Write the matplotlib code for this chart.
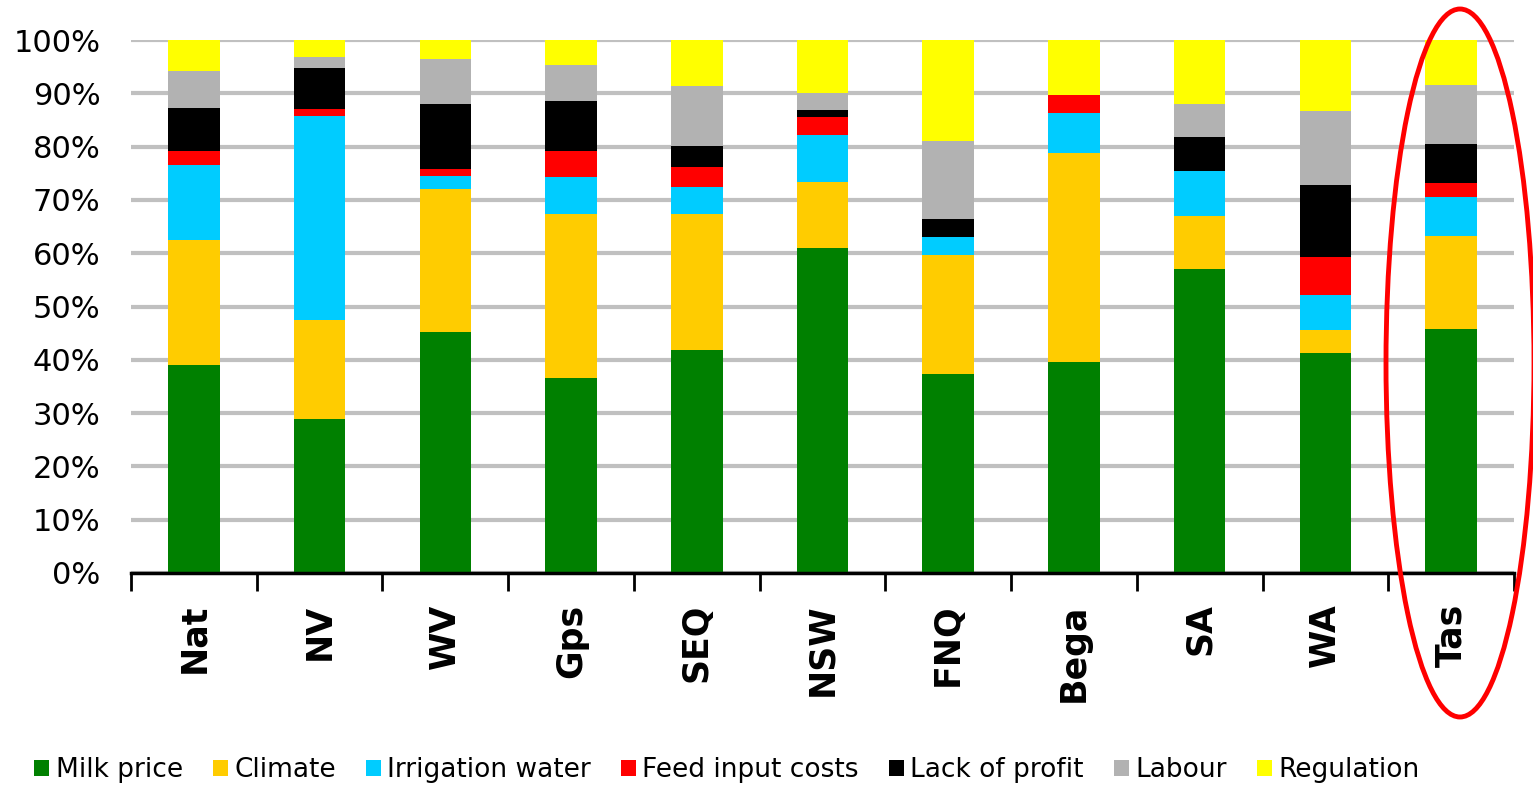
#!/usr/bin/env python3
"""Stacked share of reasons by dairy region, Tas highlighted."""

import matplotlib

matplotlib.use("Agg")
import matplotlib.pyplot as plt
import numpy as np
from matplotlib.patches import Ellipse

REGIONS = ["Nat", "NV", "WV", "Gps", "SEQ", "NSW", "FNQ", "Bega", "SA", "WA", "Tas"]

# shares in percent
MILK_PRICE = [39.1, 28.8, 45.3, 36.6, 41.9, 60.9, 37.4, 39.6, 57.1, 41.3, 45.8]
CLIMATE = [23.4, 18.6, 26.8, 30.8, 25.5, 12.5, 22.3, 39.2, 9.8, 4.3, 17.5]
IRRIGATION = [14.1, 38.4, 2.4, 6.9, 5.0, 8.8, 3.4, 7.5, 8.6, 6.6, 7.2]
FEED = [2.5, 1.2, 1.3, 4.8, 3.8, 3.3, 0.0, 3.3, 0.0, 7.0, 2.6]
LACK_PROFIT = [8.1, 7.7, 12.2, 9.4, 3.9, 1.3, 3.3, 0.0, 6.3, 13.6, 7.4]
LABOUR = [7.0, 2.1, 8.5, 6.9, 11.2, 3.3, 14.6, 0.0, 6.2, 13.8, 11.1]
REGULATION = [5.8, 3.2, 3.5, 4.6, 8.7, 9.9, 19.0, 10.4, 12.0, 13.4, 8.4]

SERIES = [
    ("Milk price", MILK_PRICE, "#008000"),
    ("Climate", CLIMATE, "#ffcc00"),
    ("Irrigation water", IRRIGATION, "#00ccff"),
    ("Feed input costs", FEED, "#ff0000"),
    ("Lack of profit", LACK_PROFIT, "#000000"),
    ("Labour", LABOUR, "#b2b2b2"),
    ("Regulation", REGULATION, "#ffff00"),
]

W, H = 1533, 787


def main() -> None:
    fig = plt.figure(figsize=(W / 100, H / 100), dpi=100)
    ax = fig.add_axes([131 / W, 1 - 573 / H, (1514 - 131) / W, (573 - 40) / H])

    x = np.arange(len(REGIONS))
    bottom = np.zeros(len(REGIONS))
    for label, values, color in SERIES:
        vals = np.array(values)
        ax.bar(x, vals, width=0.41, bottom=bottom, color=color, label=label,
               linewidth=0, zorder=3)
        bottom += vals

    ax.set_xlim(-0.5, len(REGIONS) - 0.5)
    ax.set_ylim(0, 100)
    ax.set_yticks(np.arange(0, 101, 10))
    ax.set_yticklabels([f"{v}%" for v in range(0, 101, 10)], fontsize=22)
    ax.tick_params(axis="y", length=0, pad=22)
    ax.grid(True, axis="y", color="#c0c0c0", linewidth=3, zorder=0)

    # ticks between categories, labels at the centres
    ax.set_xticks(np.arange(-0.5, len(REGIONS)), minor=False)
    ax.set_xticklabels([])
    ax.tick_params(axis="x", which="major", length=13, width=2, color="black")
    ax.set_xticks(x, minor=True)
    ax.set_xticklabels(REGIONS, minor=True, rotation=90, fontsize=25,
                       fontweight="bold", va="top", ha="center")
    ax.tick_params(axis="x", which="minor", length=0, pad=22)

    for side in ["left", "right", "top"]:
        ax.spines[side].set_visible(False)
    ax.spines["bottom"].set_linewidth(2.5)
    ax.spines["bottom"].set_zorder(4)

    handles, labels = ax.get_legend_handles_labels()
    fig.legend(handles, labels, loc="center", bbox_to_anchor=(727 / W, 1 - 770 / H),
               ncol=7, frameon=False, fontsize=19, handlelength=0.55,
               handleheight=0.55, handletextpad=0.25, columnspacing=1.15,
               borderpad=0)

    fig.add_artist(Ellipse((1460 / W, 1 - 363 / H), 148 / W, 708 / H,
                           transform=fig.transFigure, fill=False,
                           edgecolor="#ff0000", linewidth=3.5, clip_on=False))

    fig.savefig("out.png", dpi=100)
    plt.close(fig)


if __name__ == "__main__":
    main()
